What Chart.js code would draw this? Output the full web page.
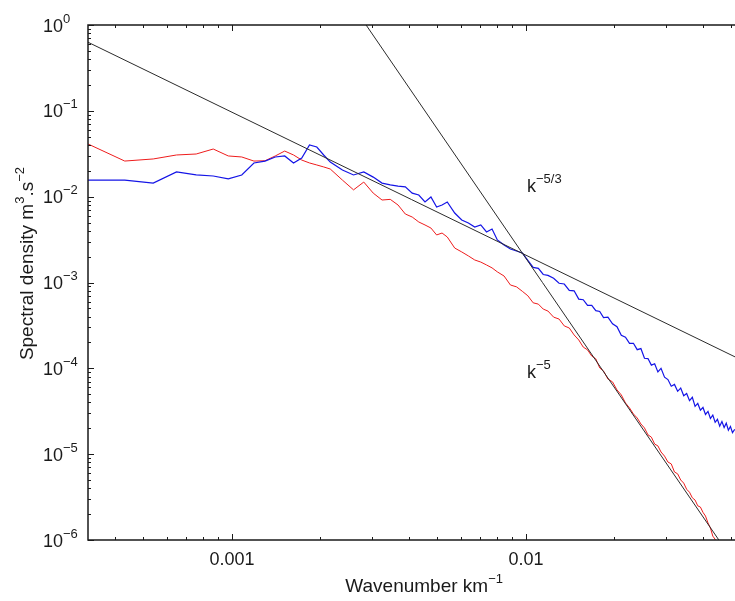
<!DOCTYPE html>
<html>
<head>
<meta charset="utf-8">
<script src="https://cdn.jsdelivr.net/npm/chart.js@4.4.1/dist/chart.umd.min.js"></script>
<style>
  html, body { margin: 0; padding: 0; background: #fff; }
  canvas { display: block; }
</style>
</head>
<body>
<canvas id="spectrumChart" width="735" height="601"></canvas>
<script>
// wavenumber (km^-1)
const wavenumber = [
  0.000324, 0.000432, 0.00054, 0.000648, 0.000756, 0.000864, 0.000972, 0.00108, 0.001188, 0.001296,
  0.001404, 0.001512, 0.00162, 0.001728, 0.001836, 0.001944, 0.002052, 0.00216, 0.002376, 0.002592,
  0.002808, 0.003024, 0.00324, 0.003456, 0.003672, 0.003888, 0.004104, 0.00432, 0.004536, 0.004752,
  0.004968, 0.005184, 0.0054, 0.005724, 0.006048, 0.006372, 0.006696, 0.00702, 0.007344, 0.007668,
  0.007992, 0.008424, 0.008856, 0.009288, 0.00972, 0.01015, 0.01058, 0.01102, 0.01145, 0.01188,
  0.01242, 0.01296, 0.0135, 0.01404, 0.01458, 0.01512, 0.01566, 0.0162, 0.01674, 0.01728,
  0.01782, 0.01836, 0.019, 0.0197, 0.0204, 0.0211, 0.0218, 0.0225, 0.0232, 0.0239,
  0.0246, 0.0253, 0.026, 0.0267, 0.0274, 0.0281, 0.0288, 0.0296, 0.0304, 0.0312,
  0.032, 0.0328, 0.0336, 0.0344, 0.0352, 0.036, 0.0368, 0.0376, 0.0384, 0.0392,
  0.04, 0.0408, 0.0416, 0.0424, 0.0432, 0.044, 0.0448, 0.0456, 0.0464, 0.0472,
  0.048, 0.0488, 0.0496, 0.0504, 0.0513
];

// spectral density, red curve
const densityRed = [
  0.0411, 0.0260, 0.0275, 0.0306, 0.0314, 0.0359, 0.0298, 0.0290, 0.0260, 0.0262,
  0.0298, 0.0340, 0.0306, 0.0267, 0.0247, 0.0234, 0.0222, 0.0210, 0.0156, 0.0120,
  0.0148, 0.0110, 0.00914, 0.0093, 0.0080, 0.00628, 0.00579, 0.00507, 0.00468, 0.00431,
  0.00358, 0.00377, 0.00339, 0.00252, 0.00227, 0.00204, 0.00183, 0.00173, 0.00160, 0.00148,
  0.00133, 0.00119, 9.35e-4, 8.9e-4, 7.9e-4, 7.0e-4, 5.8e-4, 5.6e-4, 4.9e-4, 4.65e-4,
  3.95e-4, 3.75e-4, 3.12e-4, 2.95e-4, 2.45e-4, 2.14e-4, 1.77e-4, 1.64e-4, 1.39e-4, 1.29e-4,
  1.01e-4, 9.3e-5, 7.5e-5, 6.95e-5, 5.6e-5, 4.9e-5, 3.95e-5, 3.46e-5, 2.94e-5, 2.64e-5,
  2.25e-5, 2.02e-5, 1.68e-5, 1.58e-5, 1.31e-5, 1.25e-5, 1.06e-5, 9.5e-6, 8.1e-6, 7.7e-6,
  6.2e-6, 5.9e-6, 5.0e-6, 4.6e-6, 3.9e-6, 3.6e-6, 3.1e-6, 2.92e-6, 2.5e-6, 2.42e-6,
  2.1e-6, 1.9e-6, 1.58e-6, 1.38e-6, 1.11e-6, 1.02e-6, 8.3e-7, 7.8e-7, 6.7e-7, 6.4e-7,
  5.4e-7, 5.1e-7, 4.4e-7, 4.1e-7, 3.6e-7
];

// spectral density, blue curve
const densityBlue = [
  0.0156, 0.0156, 0.0144, 0.0194, 0.0179, 0.0174, 0.0161, 0.0179, 0.0247, 0.0260,
  0.0290, 0.0298, 0.0247, 0.0282, 0.0400, 0.0379, 0.0306, 0.0253, 0.0204, 0.0179,
  0.0194, 0.0169, 0.0144, 0.0137, 0.0133, 0.0130, 0.0110, 0.01045, 0.00867, 0.00991,
  0.00758, 0.00800, 0.00867, 0.00645, 0.00535, 0.00493, 0.00443, 0.00468, 0.00388, 0.00420,
  0.00313, 0.00273, 0.00246, 0.00233, 0.00221, 0.00181, 0.00150, 0.00146, 0.00124, 0.00121,
  0.00112, 9.8e-4, 9.6e-4, 8.1e-4, 8.0e-4, 6.4e-4, 6.3e-4, 5.4e-4, 5.4e-4, 4.7e-4,
  4.6e-4, 3.9e-4, 3.95e-4, 3.3e-4, 3.05e-4, 2.42e-4, 2.3e-4, 1.95e-4, 1.96e-4, 1.65e-4,
  1.7e-4, 1.31e-4, 1.3e-4, 1.09e-4, 1.13e-4, 9.1e-5, 1.0e-4, 7.9e-5, 7.4e-5, 6.2e-5,
  6.5e-5, 5.4e-5, 5.9e-5, 4.8e-5, 5.1e-5, 4.2e-5, 4.6e-5, 3.6e-5, 3.9e-5, 3.25e-5,
  3.5e-5, 2.9e-5, 3.15e-5, 2.6e-5, 2.85e-5, 2.35e-5, 2.55e-5, 2.12e-5, 2.4e-5, 2.05e-5,
  2.3e-5, 1.9e-5, 2.1e-5, 1.78e-5, 1.95e-5
];

// reference slopes k^-5/3 and k^-5 (end points)
const slope53K = [0.000324, 0.0514];
const slope53P = [0.63, 1.36e-4];
const slope5K = [0.00286, 0.0453];
const slope5P = [1, 1e-6];

// axis labels
const yTickValues = [1, 0.1, 0.01, 0.001, 1e-4, 1e-5, 1e-6];
const yTickExponents = ['0', '\u22121', '\u22122', '\u22123', '\u22124', '\u22125', '\u22126'];
const xTickValues = [0.001, 0.01];
const xTickLabels = ['0.001', '0.01'];

const FONT = '"Liberation Sans", Arial, Helvetica, sans-serif';
const MAIN = '18px ' + FONT;
const SUP = '13px ' + FONT;
const TITLE = '19px ' + FONT;

const toPoints = (xs, ys) => xs.map((x, i) => ({ x: x, y: ys[i] }));

// text with superscripts: parts = [[text, isSup], ...]
function drawRich(ctx, parts, x, y, align, mainFont) {
  const fontOf = p => p[1] ? SUP : (mainFont || MAIN);
  const widths = parts.map(p => { ctx.font = fontOf(p); return ctx.measureText(p[0]).width; });
  const total = widths.reduce((a, b) => a + b, 0);
  let cx = align === 'center' ? x - total / 2 : (align === 'right' ? x - total : x);
  ctx.textAlign = 'left';
  ctx.textBaseline = 'alphabetic';
  parts.forEach((p, i) => {
    ctx.font = fontOf(p);
    ctx.fillText(p[0], cx, p[1] ? y - 9 : y);
    cx += widths[i];
  });
}

const axesPlugin = {
  id: 'axesPlugin',
  afterDraw(chart) {
    const ctx = chart.ctx;
    const a = chart.chartArea;
    const xs = chart.scales.x, ys = chart.scales.y;
    ctx.save();
    ctx.strokeStyle = '#1a1a1a';
    ctx.lineWidth = 1.5;
    ctx.beginPath();
    ctx.moveTo(a.right + 2, a.top);
    ctx.lineTo(a.left, a.top);
    ctx.lineTo(a.left, a.bottom);
    ctx.lineTo(a.right + 2, a.bottom);
    ctx.stroke();

    // inward tick marks
    ctx.lineWidth = 1;
    ctx.beginPath();
    for (let e = -6; e <= 0; e++) {
      for (let m = 1; m <= 9; m++) {
        const v = m * Math.pow(10, e);
        if (v > ys.max * 1.0001) break;
        const py = Math.round(ys.getPixelForValue(v)) + 0.5;
        const len = m === 1 ? 6 : 3;
        ctx.moveTo(a.left, py);
        ctx.lineTo(a.left + len, py);
      }
    }
    for (let e = -4; e <= -2; e++) {
      for (let m = 1; m <= 9; m++) {
        const v = m * Math.pow(10, e);
        if (v < xs.min || v > xs.max) continue;
        const px = Math.round(xs.getPixelForValue(v)) + 0.5;
        const len = m === 1 ? 6 : 3;
        ctx.moveTo(px, a.bottom);
        ctx.lineTo(px, a.bottom - len);
        ctx.moveTo(px, a.top);
        ctx.lineTo(px, a.top + len);
      }
    }
    ctx.stroke();

    ctx.fillStyle = '#1a1a1a';
    // y tick labels
    yTickValues.forEach((v, i) => {
      const py = ys.getPixelForValue(v);
      drawRich(ctx, [['10', false], [yTickExponents[i], true]], 43, py + 6.5, 'left');
    });
    // x tick labels
    xTickValues.forEach((v, i) => {
      const px = xs.getPixelForValue(v);
      drawRich(ctx, [[xTickLabels[i], false]], px, a.bottom + 25, 'center');
    });

    // axis titles
    drawRich(ctx, [['Wavenumber km', false], ['\u22121', true]], 503, 592, 'right', TITLE);
    ctx.save();
    ctx.translate(33, 167);
    ctx.rotate(-Math.PI / 2);
    drawRich(ctx, [['Spectral density m', false], ['3', true], ['.s', false], ['\u22122', true]], 0, 0, 'right', TITLE);
    ctx.restore();

    // slope annotations
    drawRich(ctx, [['k', false], ['\u22125/3', true]], 527, 192, 'left');
    drawRich(ctx, [['k', false], ['\u22125', true]], 527, 378, 'left');
    ctx.restore();
  }
};

const ctx = document.getElementById('spectrumChart').getContext('2d');

const spectrumChart = new Chart(ctx, {
  type: 'scatter',
  data: {
    datasets: [
      {
        data: toPoints(slope53K, slope53P),
        showLine: true, borderColor: '#2b2b2b', borderWidth: 1, pointRadius: 0, order: 0
      },
      {
        data: toPoints(slope5K, slope5P),
        showLine: true, borderColor: '#2b2b2b', borderWidth: 1, pointRadius: 0, order: 0
      },
      {
        data: toPoints(wavenumber, densityBlue),
        showLine: true, borderColor: '#1414e6', borderWidth: 1.2, pointRadius: 0, order: 1
      },
      {
        data: toPoints(wavenumber, densityRed),
        showLine: true, borderColor: '#ee1c1c', borderWidth: 1, pointRadius: 0, order: 2
      }
    ]
  },
  options: {
    responsive: false,
    animation: false,
    events: [],
    layout: { padding: { left: 88, top: 25, right: 0, bottom: 61 } },
    plugins: { legend: { display: false }, tooltip: { enabled: false } },
    scales: {
      x: {
        type: 'logarithmic', min: 0.000324, max: 0.0514, bounds: 'data',
        grid: { display: false }, border: { display: false },
        ticks: { display: false },
        afterFit: s => { s.height = 0; }
      },
      y: {
        type: 'logarithmic', min: 1e-6, max: 1, bounds: 'data',
        grid: { display: false }, border: { display: false },
        ticks: { display: false },
        afterFit: s => { s.width = 0; }
      }
    }
  },
  plugins: [axesPlugin]
});
</script>
</body>
</html>
